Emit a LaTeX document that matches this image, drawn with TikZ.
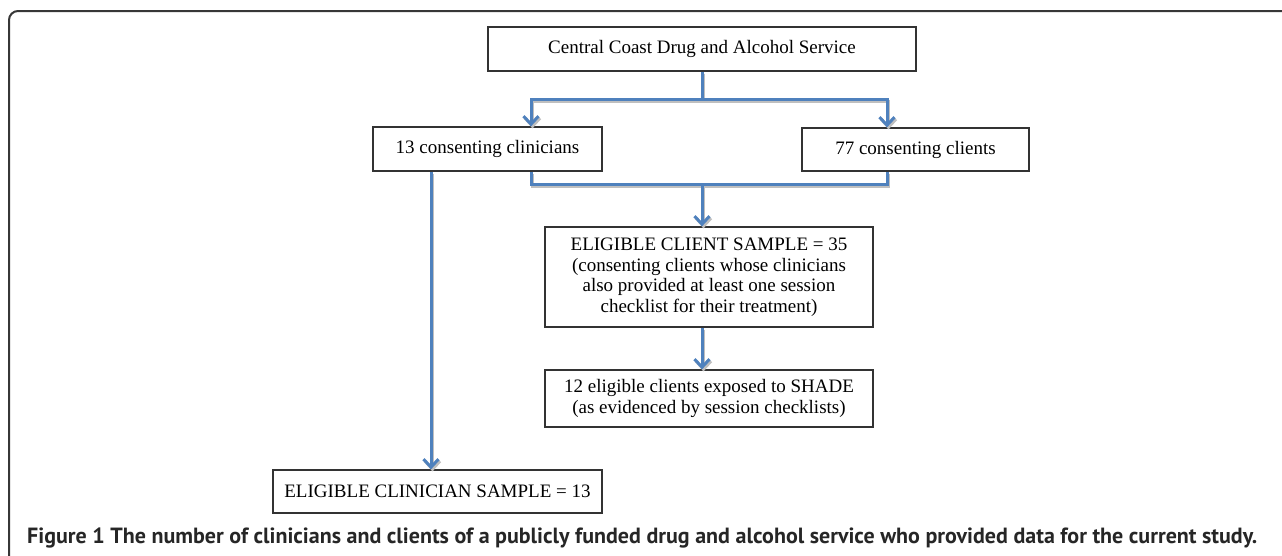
\documentclass[tikz,border=0pt]{standalone}
\usepackage{fontspec}
\setmainfont{Liberation Serif}
\newfontfamily\captionfont{PT Sans}
\usetikzlibrary{arrows.meta}

\definecolor{linkblue}{RGB}{79,129,189}
\definecolor{framegray}{RGB}{55,55,55}

\tikzset{
  stagebox/.style={rectangle,
      draw = black!80,
      line width = 1.3pt,
      fill = white,
      align = center,
      inner sep = 0pt,
      font = \fontsize{19}{20.5}\selectfont},
  link/.style={draw = linkblue,
      line width = 3pt,
      preaction = {draw = black!25, line width = 3pt,
                   transform canvas = {shift = {(1.5pt,-2pt)}}}},
  linkarrow/.style={link, -{Straight Barb[length=8pt,width=15pt]}},
}

\begin{document}
\begin{tikzpicture}[x=1pt, y=-1pt]
\useasboundingbox (0,0) rectangle (1282,555);

% outer frame of the figure
\draw[framegray, line width = 2pt, rounded corners = 9pt] (9,570) -- (9,11) -- (1300,11);

% service on top
  \node[stagebox,
      minimum width = 428pt,
      minimum height = 44pt] (service) at (702,49) {Central Coast Drug and Alcohol Service};

% consenting people
  \node[stagebox,
      minimum width = 229pt,
      minimum height = 44pt] (clin) at (487.5,149) {13 consenting clinicians};

  \node[stagebox,
      minimum width = 227pt,
      minimum height = 43pt] (clients) at (915.5,149.5) {77 consenting clients};

% client side
  \node[stagebox,
      minimum width = 328pt,
      minimum height = 100pt] (elig) at (709,277) {ELIGIBLE CLIENT SAMPLE = 35\\
      (consenting clients whose clinicians\\
      also provided at least one session\\
      checklist for their treatment)};

  \node[stagebox,
      minimum width = 328pt,
      minimum height = 57pt] (twelve) at (709,398.5) {12 eligible clients exposed to SHADE\\
      (as evidenced by session checklists)};

% clinician side
  \node[stagebox,
      minimum width = 329pt,
      minimum height = 43pt] (clinsample) at (437.5,491.5) {ELIGIBLE CLINICIAN SAMPLE = 13};

% where the lines split and join
\coordinate (split) at (702,99);
\coordinate (join) at (702,184);
\coordinate (tapL) at (531,0);
\coordinate (tapR) at (887,0);
\coordinate (tapC) at (431,0);

\draw[link] (service.south) -- (split);
\draw[linkarrow] (split) -| (clin.north -| tapL);
\draw[linkarrow] (split) -| (clients.north -| tapR);

\draw[link] (clin.south -| tapL) |- (join);
\draw[link] (clients.south -| tapR) |- (join);
\draw[linkarrow] (join) -- (elig.north -| join);
\draw[linkarrow] (elig.south -| join) -- (twelve.north -| join);

\draw[linkarrow] (clin.south -| tapC) -- (clinsample.north -| tapC);

% caption
\node[anchor = base west,
    font = \captionfont\bfseries\fontsize{22}{26}\selectfont,
    text = black!85,
    inner sep = 0pt] (caption) at (27,543) {Figure 1 The number of clinicians and clients of a publicly funded drug and alcohol service who provided data for the current study.};
\end{tikzpicture}
\end{document}
